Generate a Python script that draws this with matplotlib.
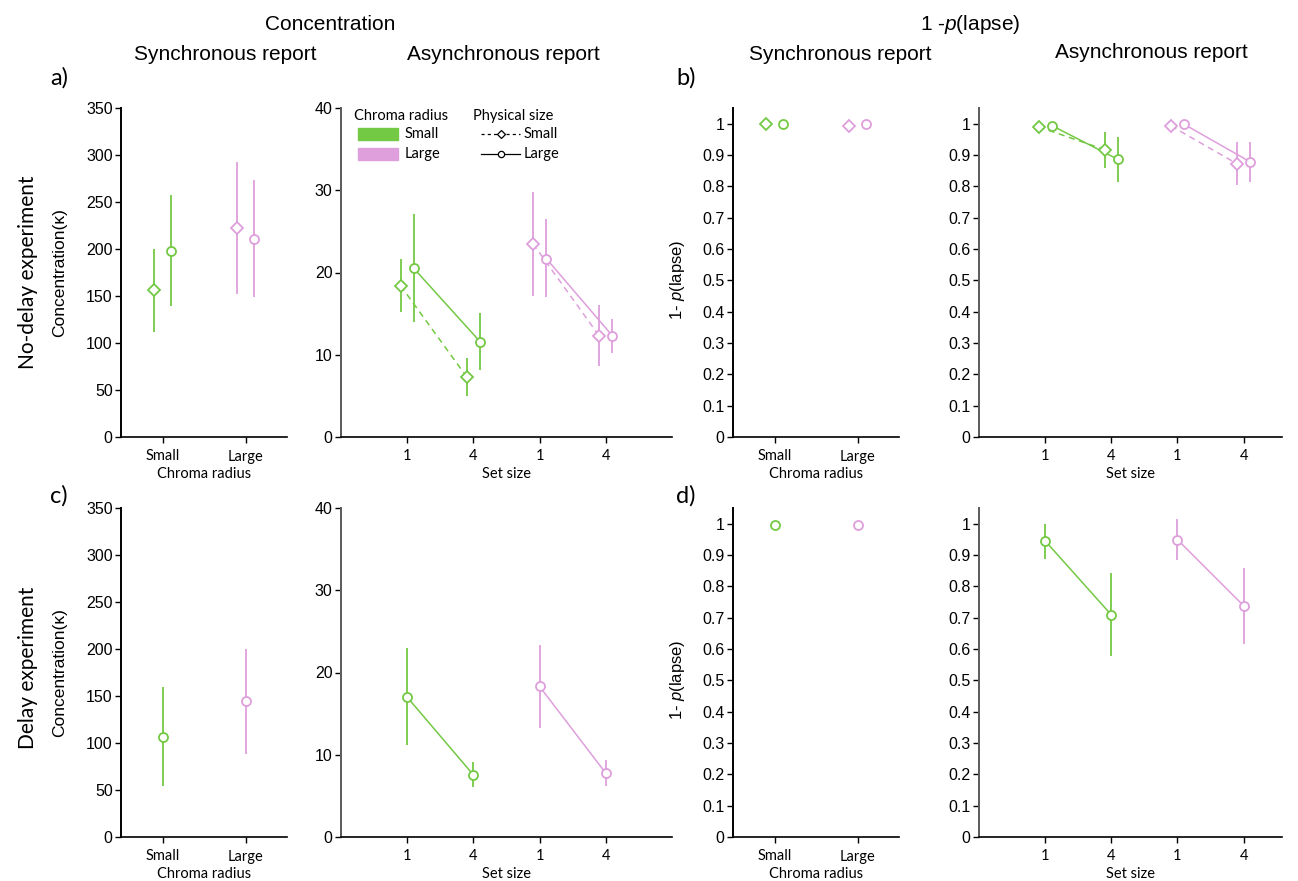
import numpy as np
import matplotlib
matplotlib.use("Agg")
import matplotlib.pyplot as plt
from matplotlib.patches import Rectangle
from matplotlib.lines import Line2D

plt.rcParams['mathtext.fontset'] = 'custom'
plt.rcParams['mathtext.it'] = 'Liberation Sans:italic'
plt.rcParams['mathtext.rm'] = 'Liberation Sans'

GREEN = "#74C944"
PINK = "#DE9FDC"
SANS_A = ['Liberation Sans', 'DejaVu Sans']
SANS_B = ['Lato', 'DejaVu Sans']

# ---------------- data ----------------
chroma_labels = ["Small", "Large"]
setsize_labels = ["1", "4", "1", "4"]
kappa_ticks = [0, 50, 100, 150, 200, 250, 300, 350]
kappa_async_ticks = [0, 10, 20, 30, 40]
lapse_ticks = [0, 0.1, 0.2, 0.3, 0.4, 0.5, 0.6, 0.7, 0.8, 0.9, 1.0]
lapse_tick_labels = ["0", "0.1", "0.2", "0.3", "0.4", "0.5", "0.6", "0.7", "0.8", "0.9", "1"]

# a) no-delay, synchronous concentration  [small chroma, large chroma]
a_sync_diamond = [155.9, 222.1]
a_sync_diamond_lo = [111.9, 151.6]
a_sync_diamond_hi = [200.1, 292.6]
a_sync_circle = [198.4, 211.1]
a_sync_circle_lo = [138.9, 148.8]
a_sync_circle_hi = [257.9, 273.8]

# a) no-delay, asynchronous concentration  [set size 1, set size 4]
a_async_green_diamond = [18.4, 7.3]
a_async_green_diamond_lo = [15.2, 5.0]
a_async_green_diamond_hi = [21.6, 9.6]
a_async_green_circle = [20.5, 11.6]
a_async_green_circle_lo = [14.0, 8.1]
a_async_green_circle_hi = [27.1, 15.1]
a_async_pink_diamond = [23.5, 12.3]
a_async_pink_diamond_lo = [17.2, 8.6]
a_async_pink_diamond_hi = [29.8, 16.1]
a_async_pink_circle = [21.7, 12.3]
a_async_pink_circle_lo = [17.0, 10.2]
a_async_pink_circle_hi = [26.5, 14.3]

# b) no-delay, synchronous 1-p(lapse)  [small chroma, large chroma]
b_sync_diamond = [1.0, 0.991]
b_sync_circle = [0.998, 0.998]

# b) no-delay, asynchronous 1-p(lapse)  [set size 1, set size 4]
b_async_green_diamond = [0.990, 0.917]
b_async_green_diamond_lo = [0.990, 0.860]
b_async_green_diamond_hi = [0.990, 0.972]
b_async_green_circle = [0.994, 0.886]
b_async_green_circle_lo = [0.994, 0.813]
b_async_green_circle_hi = [0.994, 0.957]
b_async_pink_diamond = [0.993, 0.872]
b_async_pink_diamond_lo = [0.993, 0.804]
b_async_pink_diamond_hi = [0.993, 0.940]
b_async_pink_circle = [0.998, 0.878]
b_async_pink_circle_lo = [0.998, 0.813]
b_async_pink_circle_hi = [0.998, 0.943]

# c) delay, synchronous concentration  [small chroma, large chroma]
c_sync_circle = [106.7, 144.3]
c_sync_circle_lo = [54.0, 88.3]
c_sync_circle_hi = [159.8, 199.7]

# c) delay, asynchronous concentration  [set size 1, set size 4]
c_async_green_circle = [17.0, 7.55]
c_async_green_circle_lo = [11.2, 6.06]
c_async_green_circle_hi = [23.0, 9.1]
c_async_pink_circle = [18.3, 7.76]
c_async_pink_circle_lo = [13.2, 6.26]
c_async_pink_circle_hi = [23.4, 9.37]

# d) delay, synchronous 1-p(lapse)
d_sync_circle = [0.995, 0.996]

# d) delay, asynchronous 1-p(lapse)
d_async_green_circle = [0.945, 0.709]
d_async_green_circle_lo = [0.888, 0.578]
d_async_green_circle_hi = [1.000, 0.843]
d_async_pink_circle = [0.949, 0.738]
d_async_pink_circle_lo = [0.883, 0.615]
d_async_pink_circle_hi = [1.016, 0.860]

# ---------------- figure ----------------
W, H = 1298, 881
fig = plt.figure(figsize=(W / 100, H / 100), dpi=100)


def add_ax(x0, x1, y0, y1):
    return fig.add_axes([x0 / W, 1 - y1 / H, (x1 - x0) / W, (y1 - y0) / H])


MS_D = 6.2
MS_O = 6.5


def series(ax, x, y, lo=None, hi=None, color=GREEN, marker='o', ls='-'):
    x = np.asarray(x, float)
    y = np.asarray(y, float)
    if ls == '--':
        ax.plot(x, y, color=color, ls='--', lw=1.1, zorder=2, dashes=(4, 3))
    elif ls == '-':
        ax.plot(x, y, color=color, ls='-', lw=1.1, zorder=2)
    if lo is not None:
        yerr = [y - np.asarray(lo), np.asarray(hi) - y]
        ax.errorbar(x, y, yerr=yerr, fmt='none', ecolor=color,
                    elinewidth=1.3, capsize=0, zorder=3)
    ax.plot(x, y, ls='none', marker=marker, mfc='white', mec=color, mew=1.3,
            ms=MS_D if marker == 'D' else MS_O, zorder=4)


def style(ax, left_color='black'):
    for s in ['top', 'right']:
        ax.spines[s].set_visible(False)
    ax.spines['left'].set_color(left_color)
    ax.spines['left'].set_linewidth(1.4)
    ax.spines['bottom'].set_linewidth(1.2)
    ax.tick_params(axis='y', direction='out', length=4, width=1, pad=2,
                   labelsize=11.5)
    ax.tick_params(axis='x', direction='out', length=4, width=1, pad=5,
                   labelsize=10.5)
    for t in ax.get_yticklabels():
        t.set_family(SANS_A)
    for t in ax.get_xticklabels():
        t.set_family(SANS_B)


def sync_axis(ax):
    ax.set_xlim(0.5, 2.5)
    ax.set_xticks([1, 2])
    ax.set_xticklabels(chroma_labels)
    ax.set_xlabel("Chroma radius", family=SANS_B, fontsize=10.5, labelpad=2.5)


def async_axis(ax, xmax):
    ax.set_xlim(0, xmax)
    ax.set_xticks([1, 2, 3, 4])
    ax.set_xticklabels(setsize_labels)
    ax.set_xlabel("Set size", family=SANS_B, fontsize=10.5, labelpad=2.5)


sync_x = np.array([1, 2])
off = 0.1
ss_green = np.array([1, 2])
ss_pink = np.array([3, 4])

# ---- a left ----
ax = add_ax(121, 287, 108, 437)
series(ax, sync_x[:1] - off, a_sync_diamond[:1], a_sync_diamond_lo[:1], a_sync_diamond_hi[:1], GREEN, 'D', 'none')
series(ax, sync_x[:1] + off, a_sync_circle[:1], a_sync_circle_lo[:1], a_sync_circle_hi[:1], GREEN, 'o', 'none')
series(ax, sync_x[1:] - off, a_sync_diamond[1:], a_sync_diamond_lo[1:], a_sync_diamond_hi[1:], PINK, 'D', 'none')
series(ax, sync_x[1:] + off, a_sync_circle[1:], a_sync_circle_lo[1:], a_sync_circle_hi[1:], PINK, 'o', 'none')
ax.set_ylim(0, 350)
ax.set_yticks(kappa_ticks)
sync_axis(ax)
ax.set_ylabel("Concentration(κ)", family=SANS_A, fontsize=12.5)
ax.yaxis.set_label_coords(-0.325, 0.5)
style(ax)

# ---- a right ----
ax = add_ax(341, 672, 108, 437)
series(ax, ss_green - off, a_async_green_diamond, a_async_green_diamond_lo, a_async_green_diamond_hi, GREEN, 'D', '--')
series(ax, ss_green + off, a_async_green_circle, a_async_green_circle_lo, a_async_green_circle_hi, GREEN, 'o', '-')
series(ax, ss_pink - off, a_async_pink_diamond, a_async_pink_diamond_lo, a_async_pink_diamond_hi, PINK, 'D', '--')
series(ax, ss_pink + off, a_async_pink_circle, a_async_pink_circle_lo, a_async_pink_circle_hi, PINK, 'o', '-')
ax.set_ylim(0, 40)
ax.set_yticks(kappa_async_ticks)
async_axis(ax, 5.0)
style(ax, '#5a5a5a')

# legend (manual)
lt = ax.transAxes
ax.text(0.04, 0.976, "Chroma radius", transform=lt, family=SANS_B, fontsize=10.5, va='center')
ax.add_patch(Rectangle((0.051, 0.903), 0.121, 0.037, transform=lt, color=GREEN, clip_on=False))
ax.add_patch(Rectangle((0.051, 0.842), 0.121, 0.037, transform=lt, color=PINK, clip_on=False))
ax.text(0.193, 0.921, "Small", transform=lt, family=SANS_B, fontsize=10.5, va='center')
ax.text(0.193, 0.860, "Large", transform=lt, family=SANS_B, fontsize=10.5, va='center')
ax.text(0.399, 0.976, "Physical size", transform=lt, family=SANS_B, fontsize=10.5, va='center')
ax.add_line(Line2D([0.423, 0.541], [0.921, 0.921], transform=lt, color='black', lw=0.9,
                   ls='--', dashes=(2.5, 2.5), clip_on=False))
ax.add_line(Line2D([0.482], [0.921], transform=lt, color='black', marker='D', ms=4.2,
                   mfc='white', mew=0.9, ls='none', clip_on=False))
ax.add_line(Line2D([0.423, 0.541], [0.860, 0.860], transform=lt, color='black', lw=0.9, clip_on=False))
ax.add_line(Line2D([0.482], [0.860], transform=lt, color='black', marker='o', ms=4.5,
                   mfc='white', mew=0.9, ls='none', clip_on=False))
ax.text(0.553, 0.921, "Small", transform=lt, family=SANS_B, fontsize=10.5, va='center')
ax.text(0.553, 0.860, "Large", transform=lt, family=SANS_B, fontsize=10.5, va='center')

# ---- b left ----
ax = add_ax(733, 899, 108, 437)
series(ax, sync_x[:1] - off, b_sync_diamond[:1], color=GREEN, marker='D', ls='none')
series(ax, sync_x[:1] + off, b_sync_circle[:1], color=GREEN, marker='o', ls='none')
series(ax, sync_x[1:] - off, b_sync_diamond[1:], color=PINK, marker='D', ls='none')
series(ax, sync_x[1:] + off, b_sync_circle[1:], color=PINK, marker='o', ls='none')
ax.set_ylim(0, 1.05)
ax.set_yticks(lapse_ticks)
ax.set_yticklabels(lapse_tick_labels)
sync_axis(ax)
ax.set_ylabel("1- $p$(lapse)", family=SANS_A, fontsize=12)
ax.yaxis.set_label_coords(-0.28, 0.477)
style(ax)

# ---- b right ----
ax = add_ax(979, 1282, 108, 437)
series(ax, ss_green - off, b_async_green_diamond, b_async_green_diamond_lo, b_async_green_diamond_hi, GREEN, 'D', '--')
series(ax, ss_green + off, b_async_green_circle, b_async_green_circle_lo, b_async_green_circle_hi, GREEN, 'o', '-')
series(ax, ss_pink - off, b_async_pink_diamond, b_async_pink_diamond_lo, b_async_pink_diamond_hi, PINK, 'D', '--')
series(ax, ss_pink + off, b_async_pink_circle, b_async_pink_circle_lo, b_async_pink_circle_hi, PINK, 'o', '-')
ax.set_ylim(0, 1.05)
ax.set_yticks(lapse_ticks)
ax.set_yticklabels(lapse_tick_labels)
async_axis(ax, 4.58)
style(ax, '#5a5a5a')

# ---- c left ----
ax = add_ax(121, 287, 508, 837)
series(ax, sync_x[:1], c_sync_circle[:1], c_sync_circle_lo[:1], c_sync_circle_hi[:1], GREEN, 'o', 'none')
series(ax, sync_x[1:], c_sync_circle[1:], c_sync_circle_lo[1:], c_sync_circle_hi[1:], PINK, 'o', 'none')
ax.set_ylim(0, 350)
ax.set_yticks(kappa_ticks)
sync_axis(ax)
ax.set_ylabel("Concentration(κ)", family=SANS_A, fontsize=12.5)
ax.yaxis.set_label_coords(-0.325, 0.5)
style(ax)

# ---- c right ----
ax = add_ax(341, 672, 508, 837)
series(ax, ss_green, c_async_green_circle, c_async_green_circle_lo, c_async_green_circle_hi, GREEN, 'o', '-')
series(ax, ss_pink, c_async_pink_circle, c_async_pink_circle_lo, c_async_pink_circle_hi, PINK, 'o', '-')
ax.set_ylim(0, 40)
ax.set_yticks(kappa_async_ticks)
async_axis(ax, 5.0)
style(ax, '#5a5a5a')

# ---- d left ----
ax = add_ax(733, 899, 508, 837)
series(ax, sync_x[:1], d_sync_circle[:1], color=GREEN, marker='o', ls='none')
series(ax, sync_x[1:], d_sync_circle[1:], color=PINK, marker='o', ls='none')
ax.set_ylim(0, 1.05)
ax.set_yticks(lapse_ticks)
ax.set_yticklabels(lapse_tick_labels)
sync_axis(ax)
ax.set_ylabel("1- $p$(lapse)", family=SANS_A, fontsize=12)
ax.yaxis.set_label_coords(-0.28, 0.477)
style(ax)

# ---- d right ----
ax = add_ax(979, 1282, 508, 837)
series(ax, ss_green, d_async_green_circle, d_async_green_circle_lo, d_async_green_circle_hi, GREEN, 'o', '-')
series(ax, ss_pink, d_async_pink_circle, d_async_pink_circle_lo, d_async_pink_circle_hi, PINK, 'o', '-')
ax.set_ylim(0, 1.05)
ax.set_yticks(lapse_ticks)
ax.set_yticklabels(lapse_tick_labels)
async_axis(ax, 4.58)
style(ax, '#5a5a5a')

# ---- titles and labels ----
def ftext(x, y, s, **kw):
    fig.text(x / W, 1 - y / H, s, **kw)

ftext(330, 25, "Concentration", family=SANS_A, fontsize=15, ha='center', va='center')
ftext(225, 55, "Synchronous report", family=SANS_A, fontsize=15, ha='center', va='center')
ftext(503, 55, "Asynchronous report", family=SANS_A, fontsize=15, ha='center', va='center')
ftext(970, 25, "1 -$p$(lapse)", family=SANS_A, fontsize=15, ha='center', va='center')
ftext(840, 55, "Synchronous report", family=SANS_A, fontsize=15, ha='center', va='center')
ftext(1151, 53, "Asynchronous report", family=SANS_A, fontsize=15, ha='center', va='center')
ftext(50, 78, "a)", family=SANS_B, fontsize=17, ha='left', va='center')
ftext(676, 78, "b)", family=SANS_B, fontsize=17, ha='left', va='center')
ftext(50, 496, "c)", family=SANS_B, fontsize=17, ha='left', va='center')
ftext(676, 496, "d)", family=SANS_B, fontsize=17, ha='left', va='center')
ftext(28, 272, "No-delay experiment", family=SANS_B, fontsize=15, ha='center', va='center', rotation=90)
ftext(28, 668, "Delay experiment", family=SANS_B, fontsize=15, ha='center', va='center', rotation=90)

fig.savefig("out.png", dpi=100)
